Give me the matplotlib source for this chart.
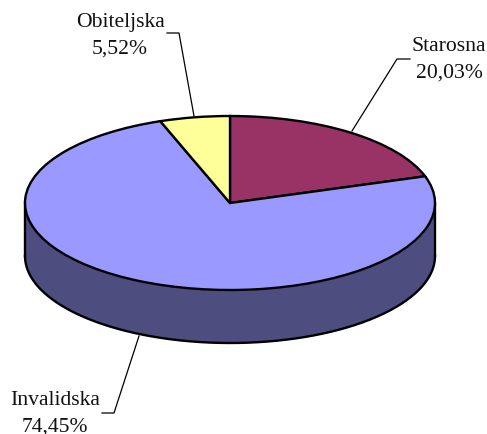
import numpy as np
import matplotlib
matplotlib.use("Agg")
import matplotlib.pyplot as plt

labels = ["Starosna", "Invalidska", "Obiteljska"]
values = [20.03, 74.45, 5.52]
value_labels = ["20,03%", "74,45%", "5,52%"]
colors = ["#993366", "#9999FF", "#FFFF99"]
wall_color = "#4D4D80"

W, H = 487, 435
plt.rcParams["font.family"] = ["Liberation Serif", "DejaVu Serif"]
fig = plt.figure(figsize=(W / 100, H / 100), dpi=100)
ax = fig.add_axes([0, 0, 1, 1])

cx, cy, rx, ry, depth = 230, 231, 205, 87, 53   # cy measured from the bottom edge
edge_lw = 1.7

ax.pie(values, colors=colors, startangle=90, counterclock=False, radius=1,
       center=(0, 0), frame=False,
       wedgeprops=dict(edgecolor="black", linewidth=edge_lw))
ax.set_aspect("auto")
# Axis limits map the unit pie to an ellipse in pixel space
ax.set_xlim(-cx / rx, (W - cx) / rx)
ax.set_ylim(-cy / ry, (H - cy) / ry)

# Side wall of the disc
t = np.linspace(np.pi, 2 * np.pi, 200)
d = depth / ry
xs = np.cos(t)
ax.fill_between(xs, np.sin(t), np.sin(t) - d, color=wall_color, zorder=0.5, lw=0)
ax.plot(xs, np.sin(t) - d, color="black", lw=edge_lw, zorder=0.6)
ax.plot([-1, -1], [0, -d], color="black", lw=edge_lw, zorder=0.6)
ax.plot([1, 1], [0, -d], color="black", lw=edge_lw, zorder=0.6)


def px(x, y):
    return (x - cx) / rx, (H - y - cy) / ry


fs = 15.6
ls = 1.52
ax.text(*px(449, 60), f"{labels[0]}\n{value_labels[0]}", ha="center", va="center",
        fontsize=fs, linespacing=ls, color="#111111")
ax.text(*px(120, 36), f"{labels[2]}\n{value_labels[2]}", ha="center", va="center",
        fontsize=fs, linespacing=ls, color="#111111")
ax.text(*px(55, 414), f"{labels[1]}\n{value_labels[1]}", ha="center", va="center",
        fontsize=fs, linespacing=ls, color="#111111")

leaders = [
    [(410, 60), (397, 60), (352, 132)],
    [(167, 34), (179, 34), (194, 117)],
    [(102, 414), (114, 414), (139, 337)],
]
for line in leaders:
    pts = [px(*p) for p in line]
    ax.plot([p[0] for p in pts], [p[1] for p in pts], color="black", lw=0.9, zorder=5)

fig.savefig("out.png", dpi=100, facecolor="white")
